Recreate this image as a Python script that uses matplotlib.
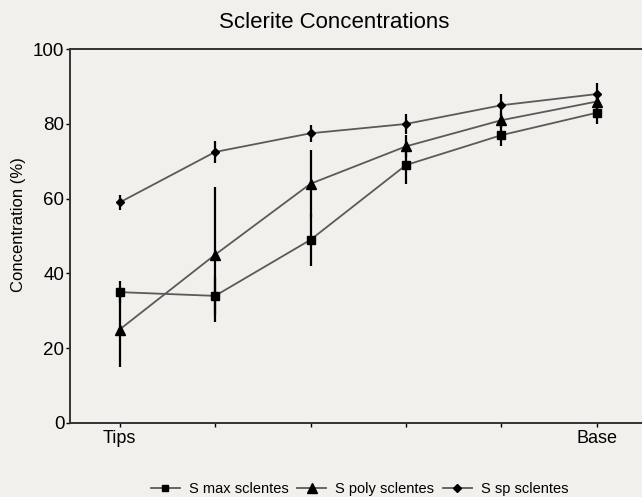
import numpy as np
import matplotlib.pyplot as plt

plt.rcParams['font.family'] = ['Liberation Sans', 'DejaVu Sans']

# sampling positions along the colony, tips to base
positions = [0, 1, 2, 3, 4, 5]
pos_labels = ['Tips', '', '', '', '', 'Base']

max_vals = [35, 34, 49, 69, 77, 83]
max_err = [3, 5, 7, 5, 3, 3]
poly_vals = [25, 45, 64, 74, 81, 86]
poly_err = [10, 18, 9, 3, 2, 2]
sp_vals = [59, 72.5, 77.5, 80, 85, 88]
sp_err = [2, 3, 2.2, 2.7, 3, 3]

bg = '#f2f0ec'
fig = plt.figure(figsize=(6.42, 4.97), dpi=100, facecolor=bg)
ax = fig.add_axes([0.109, 0.149, 0.895, 0.752], facecolor=bg)

series = [
    (max_vals, max_err, 's', 5.8, 'S max sclentes'),
    (poly_vals, poly_err, '^', 7.8, 'S poly sclentes'),
    (sp_vals, sp_err, 'D', 4.5, 'S sp sclentes'),
]
handles = []
for vals, err, mk, ms, lab in series:
    ax.errorbar(positions, vals, yerr=err, fmt='none', ecolor='black',
                elinewidth=1.6, capsize=0, zorder=2)
    h, = ax.plot(positions, vals, color='#5a5a5a', lw=1.3, marker=mk, ms=ms,
                 mfc='black', mec='black', label=lab, zorder=3)
    handles.append(h)

ax.set_xlim(-0.52, 5.5)
ax.set_ylim(0, 100)
ax.set_xticks(positions)
ax.set_xticklabels(pos_labels, fontsize=13)
ax.set_yticks([0, 20, 40, 60, 80, 100])
ax.tick_params(axis='y', labelsize=13.5, length=3, width=1, pad=1)
ax.tick_params(axis='x', length=3, width=1, pad=2)
ax.spines['right'].set_visible(False)
for s in ['left', 'top', 'bottom']:
    ax.spines[s].set_linewidth(1.4)
    ax.spines[s].set_color('#333333')

ax.set_ylabel('Concentration (%)', fontsize=12)
ax.yaxis.set_label_coords(-0.077, 0.53)
ax.set_title('Sclerite Concentrations', fontsize=16, pad=15, x=0.46)

fig.legend(handles=handles, loc='lower center', bbox_to_anchor=(0.56, -0.025),
           ncol=3, frameon=False, fontsize=10.5, handlelength=2.0,
           handletextpad=0.6, columnspacing=0.6, markerscale=0.85)

fig.savefig('out.png', dpi=100, facecolor=bg)
